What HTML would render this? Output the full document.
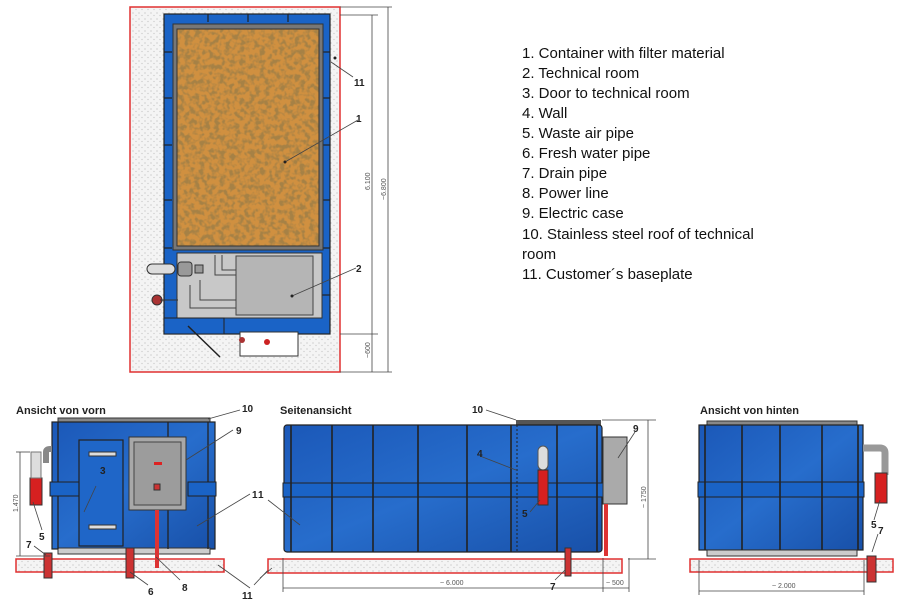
<!DOCTYPE html>
<html><head><meta charset="utf-8">
<style>
html,body{margin:0;padding:0;background:#fff;}
svg{display:block;}
.lg{font-family:"Liberation Sans",Arial,sans-serif;font-size:15px;fill:#111;}
.t{font-family:"Liberation Sans",Arial,sans-serif;font-weight:bold;font-size:11px;fill:#222;}
.n{font-family:"Liberation Sans",Arial,sans-serif;font-weight:bold;font-size:10px;fill:#222;}
.d{font-family:"Liberation Sans",Arial,sans-serif;font-size:7px;fill:#555;}
</style></head>
<body>
<svg width="900" height="606" viewBox="0 0 900 606" xmlns="http://www.w3.org/2000/svg">
<defs>
<pattern id="sp" width="6" height="6" patternUnits="userSpaceOnUse">
<rect width="6" height="6" fill="#f4f4f4"/>
<circle cx="1" cy="1" r="0.6" fill="#bbb"/><circle cx="4" cy="3.5" r="0.6" fill="#c4c4c4"/>
</pattern>
<filter id="br" x="0" y="0" width="100%" height="100%">
<feTurbulence type="fractalNoise" baseFrequency="0.2" numOctaves="2" seed="3"/>
<feColorMatrix type="matrix" values="0 0 0 0 0.38  0 0 0 0 0.22  0 0 0 0 0.06  0 0 0 -4 2.3"/>
<feComposite in2="SourceGraphic" operator="in"/>
</filter>
<linearGradient id="bl" x1="0" y1="0" x2="1" y2="1">
<stop offset="0" stop-color="#1b58b8"/><stop offset="0.5" stop-color="#276dcc"/><stop offset="1" stop-color="#1850a8"/>
</linearGradient>
</defs>

<!-- TOP VIEW -->
<rect x="130" y="7" width="210" height="365" fill="url(#sp)" stroke="#e03030" stroke-width="1.5"/>
<rect x="164" y="14" width="166" height="320" fill="#1a63c6" stroke="#222" stroke-width="1.2"/>
<g stroke="#222" stroke-width="1.2">
<line x1="208" y1="14" x2="208" y2="22"/><line x1="248" y1="14" x2="248" y2="22"/><line x1="288" y1="14" x2="288" y2="22"/>
<line x1="164" y1="52" x2="172" y2="52"/><line x1="164" y1="98" x2="172" y2="98"/><line x1="164" y1="145" x2="172" y2="145"/><line x1="164" y1="200" x2="172" y2="200"/><line x1="164" y1="248" x2="172" y2="248"/>
<line x1="322" y1="52" x2="330" y2="52"/><line x1="322" y1="98" x2="330" y2="98"/><line x1="322" y1="145" x2="330" y2="145"/><line x1="322" y1="200" x2="330" y2="200"/><line x1="322" y1="248" x2="330" y2="248"/><line x1="322" y1="295" x2="330" y2="295"/>
</g>
<rect x="173" y="24" width="150" height="226" fill="#777" stroke="#333"/>
<rect x="177" y="29" width="142" height="217" fill="#d09040"/>
<rect x="177" y="29" width="142" height="217" fill="#d09040" filter="url(#br)"/>
<rect x="177" y="29" width="142" height="217" fill="none" stroke="#333"/>
<rect x="177" y="253" width="145" height="65" fill="#c8c8c8" stroke="#333"/>
<rect x="236" y="256" width="77" height="59" fill="#b5b5b5" stroke="#444"/>
<g fill="none" stroke="#444" stroke-width="1">
<path d="M215 255 V275 H236"/><path d="M222 255 V270 H236"/><path d="M200 280 V300 H236"/><path d="M190 285 V308 H236"/>
</g>
<rect x="178" y="262" width="14" height="14" rx="3" fill="#999" stroke="#333"/>
<rect x="195" y="265" width="8" height="8" fill="#999" stroke="#333"/>
<rect x="147" y="264" width="28" height="10" rx="5" fill="#ddd" stroke="#333"/>
<circle cx="157" cy="300" r="5" fill="#a33" stroke="#333"/><line x1="160" y1="300" x2="178" y2="300" stroke="#333"/>
<rect x="164" y="318" width="60" height="16" fill="#1a63c6" stroke="#222"/>
<line x1="188" y1="326" x2="220" y2="357" stroke="#222" stroke-width="1.5"/>
<rect x="240" y="332" width="58" height="24" fill="#fff" stroke="#333"/>
<circle cx="267" cy="342" r="3" fill="#c22"/><circle cx="242" cy="340" r="3" fill="#a33"/>
<g stroke="#444" stroke-width="0.8" fill="none">
<line x1="340" y1="15" x2="378" y2="15"/><line x1="340" y1="334" x2="378" y2="334"/><line x1="340" y1="7" x2="392" y2="7"/><line x1="340" y1="372" x2="392" y2="372"/>
<line x1="372" y1="15" x2="372" y2="372"/><line x1="388" y1="7" x2="388" y2="372"/>
<line x1="331" y1="62" x2="353" y2="77"/><line x1="285" y1="162" x2="358" y2="120"/><line x1="292" y1="296" x2="356" y2="268"/>
</g>
<circle cx="285" cy="162" r="1.5" fill="#222"/><circle cx="292" cy="296" r="1.5" fill="#222"/><circle cx="335" cy="58" r="1.5" fill="#222"/>
<text class="n" x="354" y="86">11</text><text class="n" x="356" y="122">1</text><text class="n" x="356" y="272">2</text>
<text class="d" transform="translate(370,190) rotate(-90)">6.100</text>
<text class="d" transform="translate(386,200) rotate(-90)">~6.800</text>
<text class="d" transform="translate(370,358) rotate(-90)">~600</text>

<!-- LEGEND -->
<text class="lg" x="522" y="58">1. Container with filter material</text>
<text class="lg" x="522" y="78">2. Technical room</text>
<text class="lg" x="522" y="98">3. Door to technical room</text>
<text class="lg" x="522" y="118">4. Wall</text>
<text class="lg" x="522" y="138">5. Waste air pipe</text>
<text class="lg" x="522" y="158">6. Fresh water pipe</text>
<text class="lg" x="522" y="178">7. Drain pipe</text>
<text class="lg" x="522" y="198">8. Power line</text>
<text class="lg" x="522" y="218">9. Electric case</text>
<text class="lg" x="522" y="239">10. Stainless steel roof of technical</text>
<text class="lg" x="522" y="259">room</text>
<text class="lg" x="522" y="279">11. Customer´s baseplate</text>

<!-- FRONT VIEW -->
<text class="t" x="16" y="414">Ansicht von vorn</text>
<text class="n" x="242" y="412">10</text>
<rect x="16" y="559" width="208" height="13" fill="url(#sp)" stroke="#e03030" stroke-width="1.5"/>
<rect x="58" y="418" width="152" height="4" fill="#888" stroke="#333"/>
<rect x="52" y="422" width="163" height="127" fill="url(#bl)" stroke="#222" stroke-width="1.2"/>
<rect x="58" y="548" width="152" height="6" fill="#ccc" stroke="#333"/>
<g stroke="#222" stroke-width="1.3"><line x1="58" y1="422" x2="58" y2="549"/><line x1="208" y1="422" x2="208" y2="549"/><line x1="168" y1="422" x2="168" y2="549"/></g>
<rect x="50" y="482" width="30" height="14" fill="#1a63c6" stroke="#222"/>
<rect x="188" y="482" width="28" height="14" fill="#1a63c6" stroke="#222"/>
<rect x="79" y="440" width="44" height="106" fill="#1f66c8" stroke="#222" stroke-width="1.2"/>
<rect x="89" y="452" width="27" height="4" fill="#ddd" stroke="#333"/><rect x="89" y="525" width="27" height="4" fill="#ddd" stroke="#333"/>
<text class="n" x="100" y="474">3</text>
<rect x="129" y="437" width="57" height="73" fill="#a8a8a8" stroke="#333"/>
<rect x="134" y="442" width="47" height="63" fill="#9c9c9c" stroke="#444"/>
<rect x="154" y="462" width="8" height="3" fill="#d22"/><rect x="154" y="484" width="6" height="6" fill="#c33" stroke="#333"/>
<rect x="155" y="510" width="4" height="58" fill="#d33"/>
<path d="M46 463 V452 Q46 449 50 449 H52" fill="none" stroke="#888" stroke-width="6"/>
<rect x="30" y="478" width="12" height="27" fill="#d62020" stroke="#333"/>
<rect x="31" y="452" width="10" height="26" fill="#ddd" stroke="#777"/>
<rect x="44" y="553" width="8" height="25" fill="#c33" stroke="#333"/>
<rect x="126" y="548" width="8" height="30" fill="#c33" stroke="#333"/>
<g stroke="#444" stroke-width="0.8" fill="none">
<line x1="20" y1="452" x2="20" y2="556"/><line x1="16" y1="452" x2="30" y2="452"/><line x1="16" y1="556" x2="50" y2="556"/>
<line x1="208" y1="419" x2="240" y2="410"/><line x1="186" y1="460" x2="233" y2="430"/><line x1="197" y1="526" x2="250" y2="494"/>
<line x1="84" y1="512" x2="96" y2="486"/><line x1="33" y1="502" x2="42" y2="530"/><line x1="46" y1="555" x2="34" y2="546"/>
<line x1="130" y1="572" x2="148" y2="585"/><line x1="156" y1="557" x2="180" y2="580"/>
<line x1="218" y1="565" x2="250" y2="588"/><line x1="270" y1="568" x2="254" y2="585"/>
</g>
<text class="n" x="236" y="434">9</text><text class="n" x="252" y="498">1</text><text class="n" x="39" y="540">5</text>
<text class="n" x="26" y="548">7</text><text class="n" x="148" y="595">6</text><text class="n" x="182" y="591">8</text><text class="n" x="242" y="599">11</text>
<text class="d" transform="translate(18,512) rotate(-90)">1.470</text>

<!-- SIDE VIEW -->
<text class="t" x="280" y="414">Seitenansicht</text>
<text class="n" x="472" y="413">10</text>
<rect x="268" y="559" width="354" height="14" fill="url(#sp)" stroke="#e03030" stroke-width="1.5"/>
<rect x="516" y="420" width="85" height="5" fill="#555"/>
<rect x="284" y="425" width="318" height="127" rx="3" fill="url(#bl)" stroke="#222" stroke-width="1.2"/>
<rect x="283" y="483" width="320" height="14" fill="#1a63c6" stroke="#222"/>
<g stroke="#222" stroke-width="1.6">
<line x1="291" y1="425" x2="291" y2="552"/><line x1="332" y1="425" x2="332" y2="552"/><line x1="373" y1="425" x2="373" y2="552"/><line x1="418" y1="425" x2="418" y2="552"/><line x1="467" y1="425" x2="467" y2="552"/><line x1="511" y1="425" x2="511" y2="552"/><line x1="557" y1="425" x2="557" y2="552"/><line x1="597" y1="425" x2="597" y2="552"/>
</g>
<line x1="517" y1="425" x2="517" y2="552" stroke="#222" stroke-dasharray="2,2"/>
<rect x="538" y="446" width="10" height="24" rx="5" fill="#ddd" stroke="#555"/>
<rect x="538" y="470" width="10" height="35" fill="#d62020" stroke="#333"/>
<rect x="603" y="437" width="24" height="67" fill="#aaa" stroke="#333"/>
<rect x="604" y="504" width="4" height="52" fill="#d33"/>
<rect x="565" y="548" width="6" height="28" fill="#c33" stroke="#333"/>
<g stroke="#444" stroke-width="0.8" fill="none">
<line x1="516" y1="420" x2="486" y2="410"/><line x1="516" y1="470" x2="480" y2="456"/><line x1="540" y1="500" x2="530" y2="512"/>
<line x1="618" y1="458" x2="635" y2="432"/><line x1="565" y1="570" x2="555" y2="580"/>
<line x1="272" y1="568" x2="260" y2="578"/><line x1="300" y1="525" x2="268" y2="500"/>
<line x1="283" y1="558" x2="283" y2="592"/><line x1="603" y1="558" x2="603" y2="592"/><line x1="629" y1="558" x2="629" y2="592"/>
<line x1="283" y1="588" x2="629" y2="588"/>
<line x1="602" y1="420" x2="656" y2="420"/><line x1="628" y1="559" x2="656" y2="559"/><line x1="648" y1="420" x2="648" y2="559"/>
</g>
<text class="n" x="633" y="432">9</text><text class="n" x="477" y="457">4</text><text class="n" x="522" y="517">5</text><text class="n" x="550" y="590">7</text><text class="n" x="258" y="498">1</text>
<text class="d" x="440" y="585">~ 6.000</text><text class="d" x="606" y="585">~ 500</text>
<text class="d" transform="translate(646,508) rotate(-90)">~ 1750</text>

<!-- BACK VIEW -->
<text class="t" x="700" y="414">Ansicht von hinten</text>
<rect x="690" y="559" width="203" height="13" fill="url(#sp)" stroke="#e03030" stroke-width="1.5"/>
<rect x="707" y="421" width="150" height="4" fill="#888" stroke="#333"/>
<rect x="699" y="425" width="164" height="125" fill="url(#bl)" stroke="#222" stroke-width="1.2"/>
<rect x="707" y="550" width="150" height="6" fill="#ccc" stroke="#333"/>
<rect x="698" y="482" width="166" height="15" fill="#1a63c6" stroke="#222"/>
<g stroke="#222" stroke-width="1.6">
<line x1="705" y1="425" x2="705" y2="550"/><line x1="742" y1="425" x2="742" y2="550"/><line x1="780" y1="425" x2="780" y2="550"/><line x1="822" y1="425" x2="822" y2="550"/><line x1="858" y1="425" x2="858" y2="550"/>
</g>
<path d="M863 448 H880 Q885 448 885 453 V475" fill="none" stroke="#999" stroke-width="7"/>
<rect x="875" y="473" width="12" height="30" fill="#d62020" stroke="#333"/>
<rect x="867" y="556" width="9" height="26" fill="#c33" stroke="#333"/>
<g stroke="#444" stroke-width="0.8" fill="none">
<line x1="880" y1="500" x2="874" y2="520"/><line x1="872" y1="552" x2="878" y2="534"/>
<line x1="699" y1="560" x2="699" y2="595"/><line x1="864" y1="560" x2="864" y2="595"/><line x1="699" y1="591" x2="864" y2="591"/>
</g>
<text class="n" x="871" y="528">5</text><text class="n" x="878" y="534">7</text>
<text class="d" x="772" y="588">~ 2.000</text>
</svg>
</body></html>
